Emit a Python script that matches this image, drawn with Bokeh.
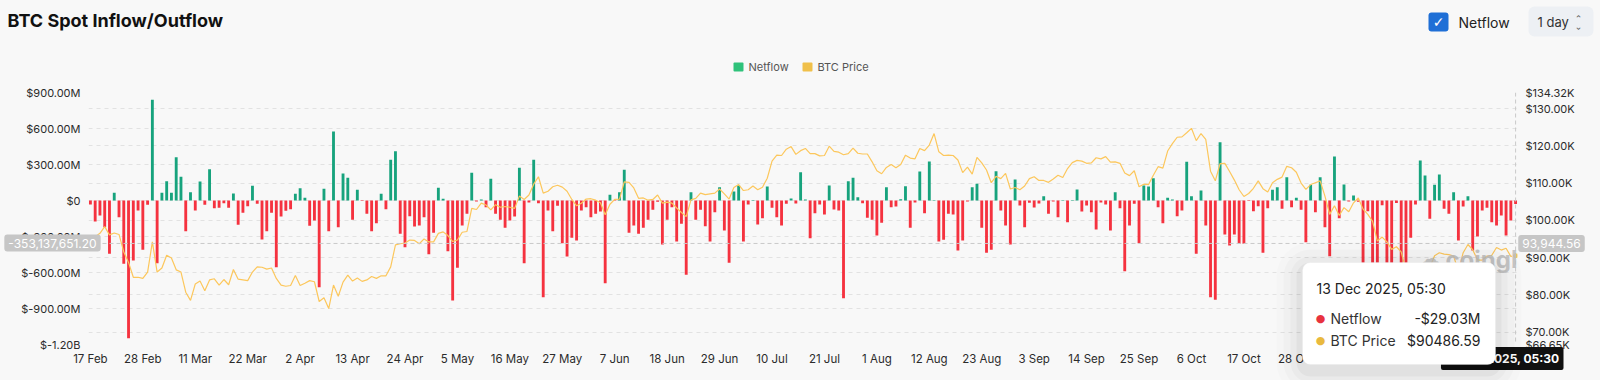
from bokeh.plotting import figure
from bokeh.models import (ColumnDataSource, LinearAxis, Range1d, FixedTicker, Grid,
                          Label, Span, BoxAnnotation)
from bokeh.embed import file_html
from bokeh.resources import INLINE

# ---------------- data (daily, 17 Feb 2025 -> 13 Dec 2025) ----------------
netflow_musd = [
    -33, -175, -125, -222, -444, 64, -139, -528, -1147, -500,
    -83, -411, -36, 839, -522, 64, 161, 64, 361, 197,
    -256, 69, -83, 158, -36, 261, -64, -61, -22, -61,
    58, -203, -103, -47, 122, -28, -325, -256, -103, -556,
    -133, -86, -72, 56, 103, 22, -211, -167, -722, 97,
    -256, 575, -222, 225, 189, -161, 89, -5, -111, -256,
    -189, 56, -72, 339, 411, -278, -389, -131, -217, -208,
    -139, -447, -269, 106, 14, -422, -833, -561, -208, -111,
    231, -8, 8, -56, 181, -111, -161, -228, -167, -133,
    272, -522, -17, 339, -22, -806, -83, -256, -44, -356,
    -467, -311, -333, -83, -56, -139, -111, -92, -689, 47,
    -5, 69, 256, -269, -208, -278, -228, -161, -78, -10,
    -367, -161, -56, -342, -194, -619, 69, -161, -78, -214,
    -342, -97, 111, -250, -519, 75, 125, -342, -33, 5,
    -200, -147, 117, -61, -139, -208, -28, 17, -25, 236,
    8, -314, -106, -33, -117, 125, -75, -83, -814, 161,
    189, 28, -22, -144, -161, -292, -186, 111, -56, -50,
    11, 119, -228, -17, 242, -106, 325, 5, -342, -328,
    -111, -117, -417, -333, -8, 111, 139, -228, -436, -411,
    244, -83, -208, -367, 175, -42, -222, -19, -58, -25,
    36, -111, -8, -139, 5, -181, 5, 92, -92, -42,
    -97, -242, -17, -33, -250, 69, -64, -589, -208, -28,
    -356, 125, 117, 186, -56, -189, 22, 8, -131, -83,
    322, 36, -444, 83, -208, -806, -828, 486, -283, -375,
    -283, -361, -361, -5, -89, -47, -436, -64, 89, 111,
    -69, 194, -56, 22, -78, -347, 131, -97, 194, -222,
    -464, 367, -147, 133, -8, 42, -10, -750, -90, -650,
    -700, -40, -750, -800, -20, -850, -700, -310, -33, 333,
    208, -153, 131, 217, -69, -111, 69, -333, -50, 36,
    -417, -300, -83, -61, -181, -208, -125, -292, -167, -29.03,
]

btc_price_kusd = [
    # Feb 17-28
    95.7, 95.6, 96.5, 98.3, 96.1, 96.6, 96.2, 91.5, 88.7, 84.7, 84.7, 84.4,
    # Mar
    86.1, 94.2, 86.1, 87.2, 90.6, 89.9, 86.7, 86.1, 80.7, 78.5,
    82.9, 83.7, 81.1, 84.0, 84.3, 82.6, 84.1, 82.7, 86.8, 84.2,
    84.0, 83.8, 86.1, 87.5, 87.4, 86.9, 87.2, 84.4, 82.6, 82.3, 82.5,
    # Apr
    85.2, 82.5, 83.1, 83.8, 83.5, 78.2, 79.2, 76.3, 82.6, 79.6,
    83.4, 85.3, 83.7, 84.5, 83.6, 84.0, 84.9, 84.4, 85.1, 85.1,
    87.5, 93.4, 93.7, 93.9, 94.7, 94.6, 93.7, 95.0, 94.2, 94.2,
    # May
    96.5, 96.9, 95.9, 94.3, 94.7, 96.8, 97.0, 103.2, 102.9, 104.6,
    104.1, 102.8, 104.2, 103.5, 103.7, 103.5, 103.2, 106.5, 105.6, 106.8,
    109.7, 111.7, 107.3, 107.8, 109.0, 109.4, 108.9, 107.8, 105.6, 103.9, 104.6,
    # Jun
    105.7, 105.8, 105.4, 104.7, 101.5, 104.3, 105.6, 105.7, 110.3, 110.2,
    108.7, 105.9, 106.0, 105.4, 105.6, 106.8, 104.6, 104.9, 104.6, 103.3,
    102.1, 101.0, 105.5, 105.9, 107.3, 106.9, 107.1, 107.3, 108.4, 107.1,
    # Jul
    105.7, 108.8, 109.6, 108.0, 108.2, 109.2, 108.2, 108.9, 111.3, 115.9,
    117.5, 117.4, 119.1, 119.8, 117.7, 118.7, 119.3, 117.9, 117.9, 117.3,
    117.4, 119.9, 118.5, 118.3, 117.6, 117.9, 119.4, 118.0, 117.8, 117.8, 115.7,
    # Aug
    113.3, 112.5, 114.2, 115.0, 114.1, 115.0, 117.5, 116.7, 116.5, 119.3,
    118.7, 120.2, 123.3, 118.4, 117.4, 117.5, 117.4, 116.2, 112.8, 114.3,
    112.4, 116.9, 115.4, 113.5, 110.1, 111.8, 111.2, 112.6, 108.4, 108.8, 108.2,
    # Sep
    109.2, 111.2, 111.7, 110.7, 110.7, 110.2, 111.1, 112.1, 111.5, 113.9,
    115.5, 116.1, 115.9, 115.3, 115.4, 116.8, 116.5, 117.1, 115.6, 115.7,
    115.3, 112.7, 112.0, 113.3, 109.0, 109.7, 109.6, 112.1, 114.4, 114.0,
    # Oct
    118.6, 120.6, 122.3, 122.4, 123.5, 124.7, 121.4, 123.3, 121.7, 113.2,
    110.6, 115.2, 115.3, 113.1, 110.8, 108.2, 106.4, 107.2, 108.6, 110.6,
    108.5, 107.6, 110.1, 111.0, 111.6, 114.5, 114.1, 112.9, 110.0, 108.3, 109.6,
    # Nov
    110.1, 110.6, 106.5, 101.6, 103.9, 101.3, 103.4, 102.3, 104.7, 106.0,
    103.0, 101.6, 99.7, 94.4, 95.5, 94.2, 92.2, 92.9, 91.5, 86.6,
    85.1, 84.7, 86.8, 88.3, 87.3, 90.5, 91.3, 90.9, 90.8, 90.4,
    # Dec 1-13
    86.3, 91.3, 93.5, 92.1, 89.4, 89.3, 90.4, 90.6, 92.7, 92.0, 92.5, 90.3, 90.49,
]

x_tick_labels = ["17 Feb", "28 Feb", "11 Mar", "22 Mar", "2 Apr", "13 Apr", "24 Apr",
                 "5 May", "16 May", "27 May", "7 Jun", "18 Jun", "29 Jun", "10 Jul",
                 "21 Jul", "1 Aug", "12 Aug", "23 Aug", "3 Sep", "14 Sep", "25 Sep",
                 "6 Oct", "17 Oct", "28 Oct", "8 Nov", "19 Nov", "30 Nov", "11 Dec"]
x_tick_step_days = 11

netflow_ticks = [-1200, -900, -600, -300, 0, 300, 600, 900]
netflow_tick_labels = ["$-1.20B", "$-900.00M", "$-600.00M", "$-300.00M", "$0",
                       "$300.00M", "$600.00M", "$900.00M"]
price_ticks = [66.65, 70, 80, 90, 100, 110, 120, 130, 134.32]
price_tick_labels = ["$66.65K", "$70.00K", "$80.00K", "$90.00K", "$100.00K",
                     "$110.00K", "$120.00K", "$130.00K", "$134.32K"]

title_text = "BTC Spot Inflow/Outflow"
series_names = ["Netflow", "BTC Price"]
hover_date = "13 Dec 2025, 05:30"
hover_netflow = "-$29.03M"
hover_price = "$90486.59"
cross_netflow_m = -358.0
cross_left_text = "-353,137,651.20"
cross_right_text = "93,944.56"

# ---------------- styling ----------------
FONT = "Inter"
GREEN = "#17a37d"
RED = "#f5323f"
GOLD = "#fcc75c"
BG = "#f8f8f8"
GRID = "#e2e2e2"
W, H = 1600, 380
FRAME_L, FRAME_R, FRAME_T, FRAME_B = 88, 1517, 92, 344   # page pixels

n = len(netflow_musd)
xs = list(range(n))
src = ColumnDataSource(dict(
    x=xs,
    v=netflow_musd,
    c=[GREEN if v >= 0 else RED for v in netflow_musd],
))
psrc = ColumnDataSource(dict(x=xs, p=btc_price_kusd))

PIN = {"position": "absolute", "top": "0px", "left": "0px"}

# ---------------- main chart ----------------
p = figure(width=W, height=H, output_backend="svg", toolbar_location=None,
           x_range=Range1d(-0.4, n - 1 + 0.4), y_range=Range1d(netflow_ticks[0], netflow_ticks[-1]),
           min_border_left=FRAME_L, min_border_right=W - FRAME_R,
           min_border_top=FRAME_T, min_border_bottom=H - FRAME_B,
           background_fill_color=BG, border_fill_color=BG, outline_line_color=None,
           styles=PIN)
p.extra_y_ranges = {"price": Range1d(price_ticks[0], price_ticks[-1])}

lt = FixedTicker(ticks=netflow_ticks)
p.yaxis.ticker = lt
p.yaxis.major_label_overrides = {t: l for t, l in zip(netflow_ticks, netflow_tick_labels)}
rt = FixedTicker(ticks=price_ticks)
ra = LinearAxis(y_range_name="price", ticker=rt,
                major_label_overrides={t: l for t, l in zip(price_ticks, price_tick_labels)})
p.add_layout(ra, "right")
xt = [i * x_tick_step_days for i in range(len(x_tick_labels))]
p.xaxis.ticker = FixedTicker(ticks=xt)
p.xaxis.major_label_overrides = {t: l for t, l in zip(xt, x_tick_labels)}

for ax in [p.yaxis[0], ra, p.xaxis[0]]:
    ax.axis_line_color = None
    ax.major_tick_line_color = None
    ax.minor_tick_line_color = None
    ax.major_tick_out = 0
    ax.major_tick_in = 0
    ax.major_label_text_font = FONT
    ax.major_label_text_font_size = "11px"
    ax.major_label_text_color = "#2b2b2b"
    ax.major_label_standoff = 8
p.xaxis.major_label_standoff = 7
p.xaxis.major_label_text_font_size = "11.5px"

p.xgrid.visible = False
p.ygrid.ticker = lt
p.ygrid.grid_line_color = GRID
p.ygrid.grid_line_dash = "4 4"
p.add_layout(Grid(dimension=1, ticker=rt, y_range_name="price",
                  grid_line_color=GRID, grid_line_dash="4 4"))

p.vbar(x="x", top="v", bottom=0, width=0.6, fill_color="c", line_color=None, source=src)
p.line(x="x", y="p", source=psrc, y_range_name="price", line_color=GOLD, line_width=1.2)
p.scatter(x=[xs[-1]], y=[btc_price_kusd[-1]], y_range_name="price", size=6,
          fill_color=GOLD, line_color="white", line_width=1)

# crosshair lines + watermark (inside the plot frame)
p.add_layout(Span(location=cross_netflow_m, dimension="width", line_color="#c9c9c9",
                  line_dash="4 3", line_width=1))
p.add_layout(Span(location=xs[-1], dimension="height", line_color="#c9c9c9",
                  line_dash="4 3", line_width=1))
p.add_layout(Label(x=1418 - FRAME_L, y=FRAME_B - 258, x_units="screen", y_units="screen",
                   text="\u2601", text_font="DejaVu Sans", text_font_size="22px",
                   text_color="#bdbdbd", text_alpha=0.8, text_baseline="middle"))
p.add_layout(Label(x=1445 - FRAME_L, y=FRAME_B - 259, x_units="screen", y_units="screen",
                   text="coinglass", text_font=FONT, text_font_size="24px",
                   text_font_style="bold", text_color="#bdbdbd", text_alpha=0.85,
                   text_baseline="middle"))

# ---------------- overlay (header, legend, tooltip, crosshair labels) ----------------
# transparent full-canvas figure whose data coordinates equal page pixels (y down),
# pinned exactly over the main chart
q = figure(width=W, height=H, output_backend="svg", toolbar_location=None,
           x_range=Range1d(0, W), y_range=Range1d(H, 0),
           x_axis_type=None, y_axis_type=None, min_border=0,
           background_fill_alpha=0, border_fill_alpha=0, outline_line_color=None,
           styles=PIN)
q.xgrid.visible = False
q.ygrid.visible = False


def lab(text, px, py, size, color, align="left", style="normal", font=FONT, **kw):
    L = Label(x=px, y=py, text=text, text_font=font, text_font_size=f"{size}px",
              text_color=color, text_align=align, text_baseline="middle",
              text_font_style=style, **kw)
    q.add_layout(L)
    return L


def box(x0, y0, x1, y1, color, alpha=1.0, line=None, radius=0):
    B = BoxAnnotation(left=x0, right=x1, top=y0, bottom=y1, fill_color=color,
                      fill_alpha=alpha, line_color=line, border_radius=radius)
    q.add_layout(B)
    return B


# header
lab(title_text, 7, 20, 18, "#111111", style="bold")
box(733, 62, 743, 71, "#2fc27a", radius=1)
lab(series_names[0], 748, 66.5, 11, "#555555")
box(802, 62, 812, 71, "#f0c04a", radius=1)
lab(series_names[1], 817, 66.5, 11, "#555555")

box(1428, 12, 1448, 31, "#1f6fd6", radius=3)
lab("\u2713", 1438, 21.5, 14, "white", align="center", style="bold", font="DejaVu Sans")
lab("Netflow", 1458, 21.5, 14, "#222222")
box(1528, 6, 1593, 36, "#edf0f4", radius=6)
lab("1 day", 1537, 21.5, 13, "#333333")
lab("\u2303", 1578, 18, 9, "#555555", align="center", font="DejaVu Sans")
lab("\u2303", 1578, 25, 9, "#555555", align="center", font="DejaVu Sans", angle=3.14159)

# crosshair labels
lab(cross_left_text, 52, 242.5, 12, "white", align="center",
    background_fill_color="#c6c6c6", padding=4, border_radius=3)
lab(cross_right_text, 1551, 243, 12, "white", align="center",
    background_fill_color="#c6c6c6", padding=4, border_radius=3)

# bottom x crosshair label
lab(hover_date, 1563, 358, 12, "white", align="right", style="bold",
    background_fill_color="#111111", padding=4, border_radius=2)

# tooltip with soft shadow
for k, a in [(26, 0.012), (19, 0.018), (12, 0.025), (6, 0.035)]:
    box(1302 - k, 262 - k + 6, 1495 + k, 364 + k + 6, "#000000", alpha=a, radius=8 + k)
box(1302, 262, 1495, 364, "#ffffff", line="#e8e8e8", radius=8)
lab(hover_date, 1316, 288, 14, "#222222")
lab("\u25cf", 1320, 318, 11, "#e8323f", align="center", font="DejaVu Sans")
lab(series_names[0], 1330, 318, 14, "#333333")
lab(hover_netflow, 1480, 318, 14, "#222222", align="right")
lab("\u25cf", 1320, 340, 11, "#e9b93e", align="center", font="DejaVu Sans")
lab(series_names[1], 1330, 340, 14, "#333333")
lab(hover_price, 1480, 340, 14, "#222222", align="right")

html = file_html([p, q], INLINE)
html = html.replace("<head>", "<head><style>body{background:%s;overflow:hidden;}</style>" % BG, 1)
open("out.html", "w").write(html)
